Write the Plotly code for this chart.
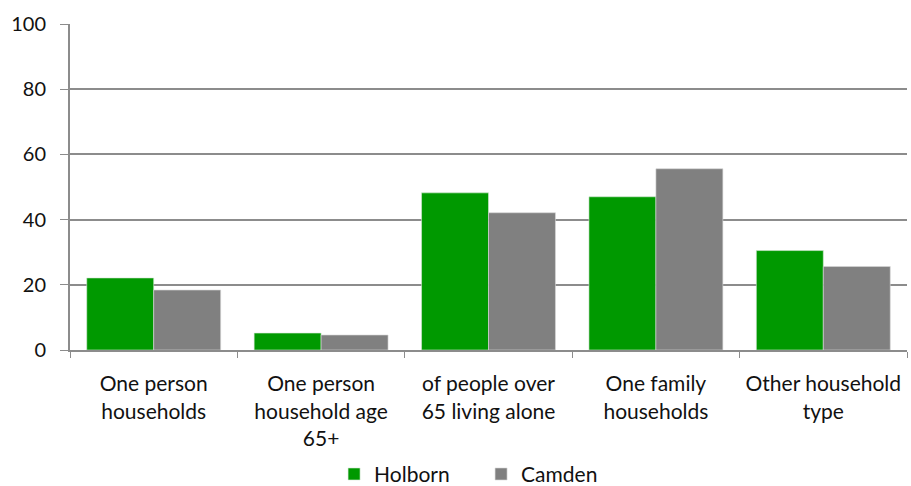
import plotly.graph_objects as go

categories = [
    "One person<br>households",
    "One person<br>household age<br>65+",
    "of people over<br>65 living alone",
    "One family<br>households",
    "Other household<br>type",
]
holborn = [22.1, 5.2, 48.2, 47.0, 30.5]
camden = [18.4, 4.6, 42.1, 55.6, 25.6]
y_ticks = [0, 20, 40, 60, 80, 100]

GRID = "#8c8c8c"
FONT = "Lato, 'Open Sans', sans-serif"

fig = go.Figure()
fig.add_trace(go.Bar(
    name="Holborn", x=categories, y=holborn,
    marker=dict(color="#009900", line=dict(color="#d9e8d9", width=0.6)),
))
fig.add_trace(go.Bar(
    name="Camden", x=categories, y=camden,
    marker=dict(color="#808080", line=dict(color="#d9d9d9", width=0.6)),
))

fig.update_layout(
    width=911, height=486,
    margin=dict(l=70, r=4, t=24, b=136, autoexpand=False),
    paper_bgcolor="white", plot_bgcolor="white",
    barmode="group", bargap=0.2, bargroupgap=0,
    font=dict(family=FONT, size=21, color="#111111"),
    showlegend=True,
    legend=dict(
        orientation="h", xref="container", yref="container",
        x=0.3667, xanchor="left", y=0.024, yanchor="middle",
        font=dict(size=21), itemwidth=30, traceorder="normal",
        entrywidth=102, entrywidthmode="pixels",
    ),
)
fig.update_xaxes(
    type="category", tickson="boundaries", ticks="outside", ticklen=6,
    tickcolor=GRID, showline=True, linecolor=GRID, linewidth=2,
    showgrid=False, tickangle=0, ticklabelstandoff=14,
    tickfont=dict(size=21),
)
fig.update_yaxes(
    range=[0, 100], tickvals=y_ticks, ticks="outside", ticklen=8,
    tickcolor=GRID, showline=True, linecolor=GRID, linewidth=2,
    showgrid=True, gridcolor=GRID, gridwidth=2, zeroline=False,
    ticklabelstandoff=10, tickfont=dict(size=20),
)

fig.write_html("out.html")
